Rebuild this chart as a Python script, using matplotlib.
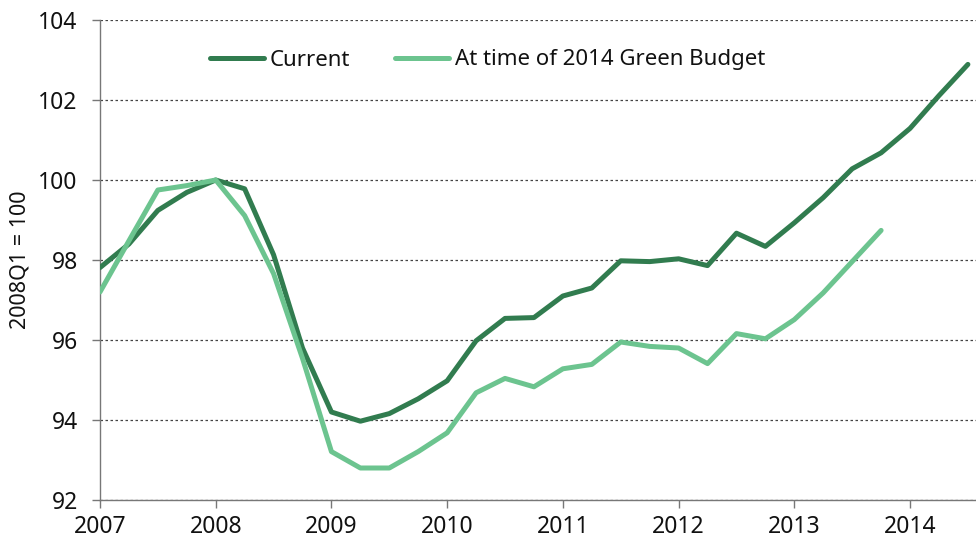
import matplotlib
matplotlib.use("Agg")
import matplotlib.pyplot as plt
import numpy as np

plt.rcParams['font.family'] = ['Noto Sans', 'DejaVu Sans']

start_year = 2007
current = [97.81, 98.4, 99.24, 99.69, 100.0, 99.78, 98.13, 95.8,
           94.2, 93.97, 94.16, 94.53, 94.98, 95.98, 96.54, 96.56,
           97.1, 97.3, 97.98, 97.96, 98.03, 97.86, 98.67, 98.34,
           98.93, 99.56, 100.28, 100.68, 101.29, 102.11, 102.89]
green_budget = [97.2, 98.48, 99.75, 99.86, 100.0, 99.11, 97.66, 95.54,
                93.21, 92.8, 92.8, 93.21, 93.68, 94.68, 95.04, 94.83,
                95.28, 95.39, 95.95, 95.84, 95.8, 95.41, 96.16, 96.03,
                96.51, 97.18, 97.96, 98.74]
year_ticks = [2007, 2008, 2009, 2010, 2011, 2012, 2013, 2014]
y_ticks = [92, 94, 96, 98, 100, 102, 104]

x_cur = start_year + np.arange(len(current)) / 4
x_gb = start_year + np.arange(len(green_budget)) / 4

fig = plt.figure(figsize=(9.76, 5.41), dpi=100)
ax = fig.add_axes([100/976, 1-500/541, 1-100/976, 480/541])

dark = '#317c4f'
light = '#6cc48f'
ax.plot(x_cur, current, color=dark, lw=3.6, label='Current', solid_capstyle='round', zorder=3)
ax.plot(x_gb, green_budget, color=light, lw=3.6, label='At time of 2014 Green Budget', solid_capstyle='round', zorder=3)

ax.set_xlim(2007, 2014.57)
ax.set_ylim(92, 104)
ax.set_xticks(year_ticks)
ax.set_xticklabels([str(y) for y in year_ticks])
ax.set_yticks(y_ticks)
ax.set_yticklabels([str(v) for v in y_ticks])

ax.grid(axis='y', linestyle=(0, (2, 2)), color='#444444', lw=0.9, zorder=1)
for s in ['top', 'right']:
    ax.spines[s].set_visible(False)
for s in ['left', 'bottom']:
    ax.spines[s].set_color('#777777')
    ax.spines[s].set_linewidth(1.0)
ax.tick_params(axis='both', colors='#777777', labelcolor='#111111', labelsize=16.5, length=6, width=1)
ax.tick_params(axis='x', pad=4.5)
ax.tick_params(axis='y', pad=10)

ax.set_ylabel('2008Q1 = 100', fontsize=15.5, color='#111111')
ax.yaxis.set_label_coords(-69/876, 0.5)

leg = fig.legend(loc='center left', bbox_to_anchor=(210/976, 1-60/541), ncol=2, frameon=False,
                 fontsize=16, handlelength=2.45, handletextpad=0.25, columnspacing=2.0,
                 borderpad=0, borderaxespad=0)
for t in leg.get_texts():
    t.set_color('#111111')

fig.savefig('out.png', dpi=100)
